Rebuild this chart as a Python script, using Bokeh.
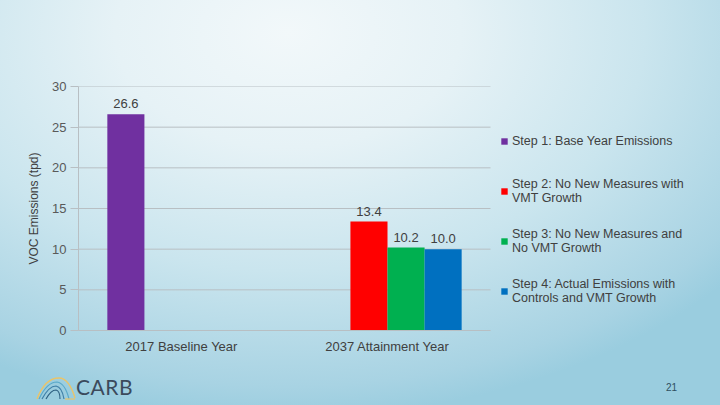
from bokeh.plotting import figure
from bokeh.layouts import column
from bokeh.models import (Range1d, ColumnDataSource, Legend, LegendItem,
                          FixedTicker, Div)
from bokeh.transform import dodge
from bokeh.embed import file_html
from bokeh.resources import INLINE
from bokeh.core.properties import value

# ---- data ----
categories = ["2017 Baseline Year", "2037 Attainment Year"]
series_names = [
    "Step 1: Base Year Emissions",
    "Step 2: No New Measures with\nVMT Growth",
    "Step 3: No New Measures and\nNo VMT Growth",
    "Step 4: Actual Emissions with\nControls and VMT Growth",
]
step1 = [26.6, 0.0]
step2 = [0.0, 13.4]
step3 = [0.0, 10.2]
step4 = [0.0, 10.0]
series_values = [step1, step2, step3, step4]
colors = ["#7030A0", "#FF0000", "#00B050", "#0070C0"]
y_ticks = [0, 5, 10, 15, 20, 25, 30]
y_title = "VOC Emissions (tpd)"
footer_org = "CARB"
page_number = "21"

FONT = "Liberation Sans"
TXT = "#404040"
GRID = "#b8bfc3"

n_cat = len(categories)
cat_pos = [i + 0.5 for i in range(n_cat)]
# plot area spans the two categories; extra room on the right holds the legend
x_end = n_cat * 642.0 / 412.0

p = figure(width=720, height=370, x_range=Range1d(0, x_end),
           y_range=Range1d(0, 30), output_backend="svg", toolbar_location=None,
           min_border_left=78, min_border_right=0, min_border_top=86,
           min_border_bottom=40)
p.background_fill_alpha = 0
p.border_fill_alpha = 0
p.outline_line_color = None

# horizontal gridlines limited to the category area
p.segment(x0=[0] * len(y_ticks), x1=[n_cat] * len(y_ticks), y0=y_ticks, y1=y_ticks,
          line_color=GRID, line_width=1)

offsets = [-0.27, -0.09, 0.09, 0.27]
bw = 0.18
items = []
for vals, name, col, off in zip(series_values, series_names, colors, offsets):
    src = ColumnDataSource(dict(xc=cat_pos, val=vals))
    r = p.vbar(x=dodge("xc", off), top="val", width=bw,
               source=src, fill_color=col, line_color=None)
    items.append(LegendItem(label=name, renderers=[r]))
    lab_x = [c for c, v in zip(cat_pos, vals) if v > 0]
    lab_val = [v for v in vals if v > 0]
    lsrc = ColumnDataSource(dict(xc=lab_x, val=lab_val,
                                 txt=[f"{v:.1f}" for v in lab_val]))
    p.text(x=dodge("xc", off), y="val", text="txt", source=lsrc,
           y_offset=-6, text_align="center", text_baseline="bottom",
           text_font=value(FONT), text_font_size="13px", text_color=TXT)

legend = Legend(items=items, location=(422, 24), orientation="vertical",
                glyph_width=8, glyph_height=8, label_height=30, spacing=20,
                label_standoff=4, padding=0, margin=0,
                label_text_font=FONT, label_text_font_size="12.5px",
                label_text_line_height=1.2,
                label_text_color=TXT, border_line_color=None,
                background_fill_alpha=0)
p.add_layout(legend)

# axes
p.yaxis.ticker = FixedTicker(ticks=y_ticks)
p.yaxis.axis_label = y_title
p.yaxis.axis_label_text_font = FONT
p.yaxis.axis_label_text_font_size = "12px"
p.yaxis.axis_label_text_font_style = "normal"
p.yaxis.axis_label_text_color = TXT
p.yaxis.axis_label_standoff = 8
p.yaxis.major_label_text_font = FONT
p.yaxis.major_label_text_font_size = "13px"
p.yaxis.major_label_text_color = "#595959"
p.yaxis.major_label_standoff = 4
p.yaxis.axis_line_color = GRID
p.yaxis.major_tick_line_color = GRID
p.yaxis.major_tick_out = 8
p.yaxis.major_tick_in = 0
p.yaxis.minor_tick_line_color = None

p.xaxis.ticker = FixedTicker(ticks=cat_pos)
p.xaxis.major_label_overrides = {c: name for c, name in zip(cat_pos, categories)}
p.xaxis.bounds = (0, n_cat)
p.xaxis.axis_line_color = GRID
p.xaxis.major_tick_line_color = None
p.xaxis.major_tick_out = 0
p.xaxis.major_tick_in = 0
p.xaxis.minor_tick_line_color = None
p.xaxis.major_label_text_font = FONT
p.xaxis.major_label_text_font_size = "13px"
p.xaxis.major_label_text_color = TXT
p.xaxis.major_label_standoff = 8

p.xgrid.grid_line_color = None
p.ygrid.grid_line_color = None

# slide footer: logo + page number
logo_svg = (
    '<svg width="42" height="26" viewBox="0 0 42 26" style="position:absolute;left:30px;top:-1px">'
    '<path d="M2 25 Q10 4 24 4 Q34 4 40 24" fill="none" stroke="#e9c46a" stroke-width="1.4"/>'
    '<path d="M4 25 Q12 8 22 8 Q30 9 34 25" fill="none" stroke="#5aa9c9" stroke-width="1.2"/>'
    '<path d="M7 25 Q14 12 21 12 Q27 13 29 25" fill="none" stroke="#3f7fa6" stroke-width="1.2"/>'
    '<path d="M11 25 Q16 16 21 16 Q25 17 25 25" fill="none" stroke="#2d5f80" stroke-width="1.1"/>'
    '<path d="M30 25 L40 25" stroke="#e9c46a" stroke-width="1.2"/>'
    '</svg>'
)
footer_html = (
    '<div style="position:relative;width:720px;height:30px">'
    + logo_svg +
    f'<span style="position:absolute;left:71px;top:0px;font-family:Lato;font-size:21px;'
    f'line-height:24px;color:#3b4a5c;letter-spacing:0.5px">{footer_org}</span>'
    f'<span style="position:absolute;left:661px;top:7px;font-family:\'Liberation Sans\';'
    f'font-size:10px;line-height:12px;color:#2f4f5f">{page_number}</span>'
    '</div>'
)
footer = Div(text=footer_html, width=720, height=35)

layout = column(p, footer, spacing=0)

html = file_html(layout, INLINE)
bg = ("<style>html{min-height:100%;background:radial-gradient(ellipse 80% 95% at 40% 8%,"
      " #f2f8fa 0%, #e6f2f6 30%, #cae5ee 62%, #a8d3e3 92%, #9acddf 100%) fixed;}"
      " body{background:transparent;margin:0;}</style></head>")
html = html.replace("</head>", bg, 1)
open("out.html", "w").write(html)
